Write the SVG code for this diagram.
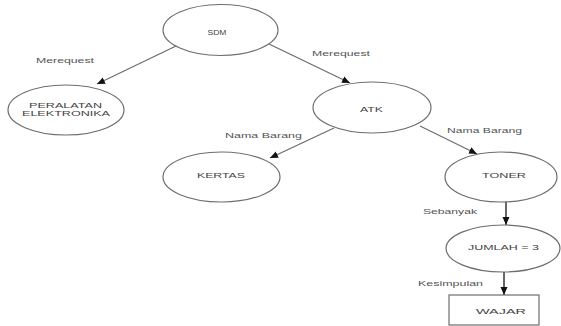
<svg xmlns="http://www.w3.org/2000/svg" width="561" height="326" viewBox="0 0 561 326">
  <style>
    .node { fill: #ffffff; stroke: #6e6e6e; stroke-width: 1.2; }
    .edge { fill: none; stroke: #6a6a6a; stroke-width: 1.1; }
    .edge-dark { fill: none; stroke: #333333; stroke-width: 1.5; }
    .label { font-family: "Liberation Sans", Arial, sans-serif; font-size: 7.5px; fill: #444444; text-anchor: middle; }
    .elabel { font-family: "Liberation Sans", Arial, sans-serif; font-size: 7.5px; fill: #555555; }
  </style>
  <defs>
    <marker id="arrow" markerUnits="userSpaceOnUse" markerWidth="9" markerHeight="8" refX="8" refY="4" orient="auto">
      <path d="M0,0.5 L8,4 L0,7.5 Z" fill="#111111"/>
    </marker>
  </defs>
  <rect width="561" height="326" fill="#ffffff"/>

  <!-- connectors -->
  <g id="connectors">
    <line class="edge" x1="176" y1="46" x2="97" y2="84" marker-end="url(#arrow)"/>
    <line class="edge" x1="269" y1="44" x2="350" y2="83" marker-end="url(#arrow)"/>
    <line class="edge" x1="334" y1="128" x2="270" y2="158" marker-end="url(#arrow)"/>
    <line class="edge" x1="420" y1="126" x2="477" y2="154" marker-end="url(#arrow)"/>
    <line class="edge-dark" x1="506" y1="202" x2="506" y2="225" marker-end="url(#arrow)"/>
    <line class="edge-dark" x1="504" y1="272" x2="504" y2="295" marker-end="url(#arrow)"/>

    <text class="elabel" x="36" y="63" textLength="58" lengthAdjust="spacingAndGlyphs">Merequest</text>
    <text class="elabel" x="312" y="56" textLength="58" lengthAdjust="spacingAndGlyphs">Merequest</text>
    <text class="elabel" x="225" y="138" textLength="77" lengthAdjust="spacingAndGlyphs">Nama Barang</text>
    <text class="elabel" x="447" y="133" textLength="75" lengthAdjust="spacingAndGlyphs">Nama Barang</text>
    <text class="elabel" x="423" y="214" textLength="54" lengthAdjust="spacingAndGlyphs">Sebanyak</text>
    <text class="elabel" x="418" y="286" textLength="65" lengthAdjust="spacingAndGlyphs">Kesimpulan</text>
  </g>

  <!-- nodes -->
  <g id="sdm">
    <ellipse class="node" cx="220.5" cy="30" rx="57.5" ry="25.5"/>
    <text class="label" x="217" y="35" textLength="19" lengthAdjust="spacingAndGlyphs">SDM</text>
  </g>
  <g id="peralatan-elektronika">
    <ellipse class="node" cx="66" cy="110" rx="58" ry="25"/>
    <text class="label" x="65.5" y="108" textLength="73" lengthAdjust="spacingAndGlyphs">PERALATAN</text>
    <text class="label" x="66" y="116" textLength="88" lengthAdjust="spacingAndGlyphs">ELEKTRONIKA</text>
  </g>
  <g id="atk">
    <ellipse class="node" cx="372" cy="107.5" rx="59" ry="25.5"/>
    <text class="label" x="371.5" y="112" textLength="23" lengthAdjust="spacingAndGlyphs">ATK</text>
  </g>
  <g id="kertas">
    <ellipse class="node" cx="221.5" cy="177" rx="58.5" ry="25"/>
    <text class="label" x="221" y="178" textLength="48" lengthAdjust="spacingAndGlyphs">KERTAS</text>
  </g>
  <g id="toner">
    <ellipse class="node" cx="501" cy="177" rx="56" ry="25"/>
    <text class="label" x="504" y="178" textLength="44" lengthAdjust="spacingAndGlyphs">TONER</text>
  </g>
  <g id="jumlah">
    <ellipse class="node" cx="503" cy="248.5" rx="57" ry="23.5"/>
    <text class="label" x="503.5" y="250" textLength="71" lengthAdjust="spacingAndGlyphs">JUMLAH = 3</text>
  </g>
  <g id="wajar">
    <rect class="node" x="449" y="295" width="90" height="30"/>
    <text class="label" x="501" y="314" textLength="50" lengthAdjust="spacingAndGlyphs">WAJAR</text>
  </g>
</svg>
